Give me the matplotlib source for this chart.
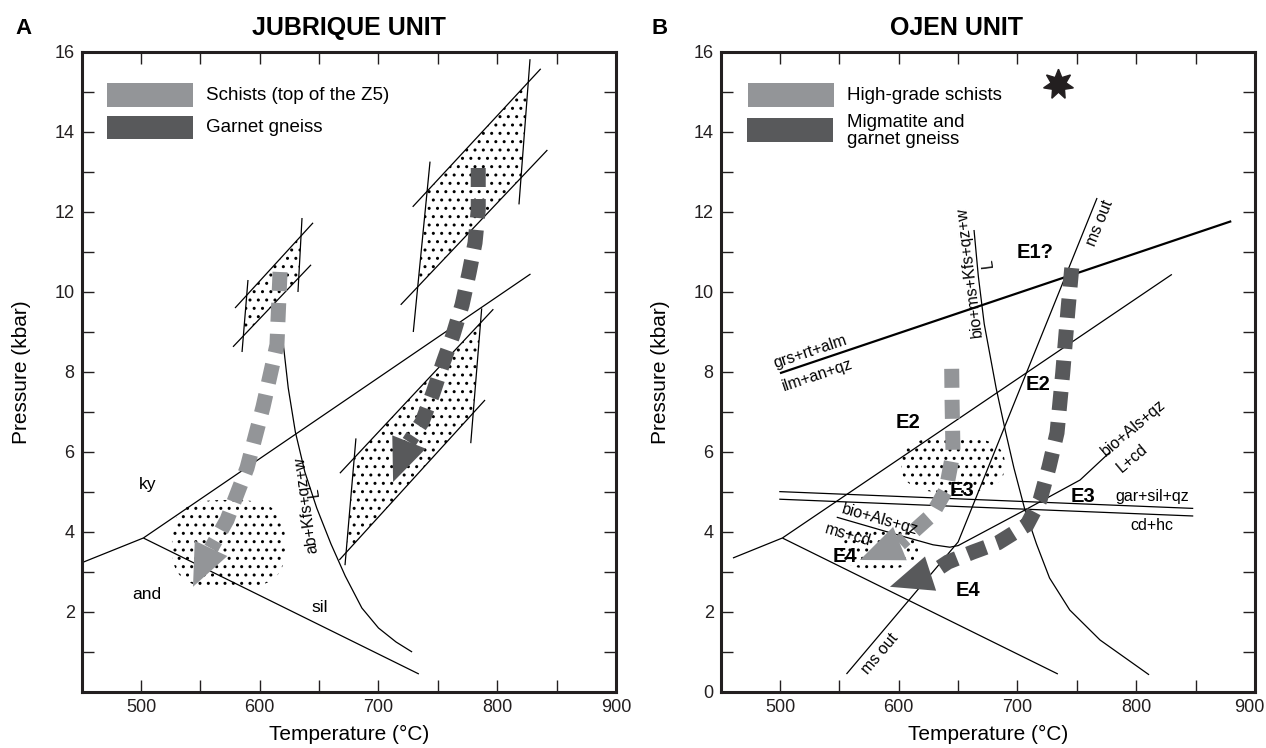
import numpy as np
import matplotlib
matplotlib.use("Agg")
import matplotlib.pyplot as plt
import matplotlib.transforms as mtransforms
from matplotlib.patches import Polygon, Rectangle

plt.rcParams['font.family'] = ['Liberation Sans', 'DejaVu Sans']
plt.rcParams['hatch.linewidth'] = 1.0

LIGHT = '#939598'
DARK = '#58595b'

# ---------------- axes ----------------
x_ticks = [500, 600, 700, 800, 900]
x_minor = [550, 650, 750, 850]
y_ticks_A = [2, 4, 6, 8, 10, 12, 14, 16]
y_ticks_B = [0, 2, 4, 6, 8, 10, 12, 14, 16]
y_minor = [1, 3, 5, 7, 9, 11, 13, 15]

# ---------------- panel A : Jubrique unit ----------------
ky_and_A_T = [450, 502]
ky_and_A_P = [3.23, 3.85]
ky_sil_A_T = [502, 828]
ky_sil_A_P = [3.85, 10.45]
and_sil_T = [502, 734]
and_sil_P = [3.85, 0.45]
solidus_A_T = [619.9, 624, 630, 638, 648, 660, 672, 686, 700, 714.8, 728.3]
solidus_A_P = [8.68, 7.6, 6.5, 5.5, 4.6, 3.7, 2.9, 2.1, 1.6, 1.25, 1.0]

# P-T boxes: lines (upper, lower, left, right) as [T1, T2] / [P1, P2]
box1_T = [[579.2, 644.9], [577.5, 643.2], [590.1, 585.1], [635.6, 632.2]]
box1_P = [[9.60, 11.73], [8.63, 10.68], [10.30, 8.50], [11.85, 10.00]]
box2_T = [[728.8, 836.6], [718.7, 842.2], [743.4, 729.3], [827.6, 818.3]]
box2_P = [[12.13, 15.58], [9.68, 13.55], [13.26, 9.00], [15.82, 12.19]]
box3_T = [[667.5, 796.7], [667.0, 789.7], [681.0, 671.8], [786.9, 777.7]]
box3_P = [[5.47, 9.57], [3.30, 7.30], [6.34, 3.17], [9.59, 6.22]]

# dotted field (centre T, centre P, half-width T, half-height P)
blob_A = [573.7, 3.7, 47.6, 1.1]

# P-T paths (last point = arrow tip)
schist_A_T = [617.1, 614.5, 602.8, 589.3, 572.4, 559.0, 543.8]
schist_A_P = [10.5, 8.68, 7.13, 5.60, 4.30, 3.59, 2.63]
gneiss_A_T = [784.0, 784.0, 781.3, 776.3, 770.4, 762.8, 754.4, 746.0, 736.7, 725.7, 712.3]
gneiss_A_P = [13.1, 12.05, 11.23, 10.48, 9.68, 8.93, 8.23, 7.48, 6.75, 6.25, 5.25]

# ---------------- panel B : Ojen unit ----------------
ky_and_B_T = [460.4, 502]
ky_and_B_P = [3.35, 3.85]
ky_sil_B_T = [502, 830]
ky_sil_B_P = [3.85, 10.44]
msout_T = [556, 650, 767]
msout_P = [0.45, 3.75, 12.35]
solidus_B_T = [663.4, 667, 672, 682, 690, 697, 706.3, 716, 727, 744, 769.5, 810.8]
solidus_B_P = [11.55, 10.4, 9.2, 7.6, 6.5, 5.6, 4.55, 3.7, 2.85, 2.05, 1.3, 0.43]
bio_als_T = [547.8, 600, 628.9, 643, 650, 706.3, 752.7, 778]
bio_als_P = [4.37, 3.92, 3.68, 3.62, 3.66, 4.55, 5.3, 6.0]
gar_sil_1_T = [499.4, 848]
gar_sil_1_P = [5.01, 4.59]
gar_sil_2_T = [499.4, 848]
gar_sil_2_P = [4.82, 4.40]
grs_T = [500, 880]
grs_P = [7.97, 11.77]

blob_B1 = [645.7, 5.68, 43.6, 0.70]
blob_B2 = [583.3, 3.60, 33.0, 0.53]
star_TP = [734, 15.2]

hgs_B_T = [644.6, 644.9, 645.7, 639.8, 628.0, 601.0, 567.3]
hgs_B_P = [8.08, 7.30, 5.98, 5.05, 4.43, 3.71, 3.30]
mig_B_T = [745.7, 742.5, 738.1, 733.3, 726.6, 719.0, 708.0, 683.6, 662.5, 641.5, 626.8, 592.6]
mig_B_P = [10.6, 9.55, 7.98, 6.48, 5.63, 4.80, 4.18, 3.73, 3.50, 3.25, 2.96, 2.63]


# ---------------- helpers ----------------
def line(ax, T, P, lw=0.9):
    ax.plot(T, P, color='black', lw=lw, solid_capstyle='butt', zorder=2)


def intersect(a, b):
    (x1, y1), (x2, y2) = a
    (x3, y3), (x4, y4) = b
    d = (x1 - x2) * (y3 - y4) - (y1 - y2) * (x3 - x4)
    px = ((x1 * y2 - y1 * x2) * (x3 - x4) - (x1 - x2) * (x3 * y4 - y3 * x4)) / d
    py = ((x1 * y2 - y1 * x2) * (y3 - y4) - (y1 - y2) * (x3 * y4 - y3 * x4)) / d
    return px, py


def dotted(ax, verts):
    ax.add_patch(Polygon(verts, closed=True, facecolor='none', edgecolor='black',
                         hatch='..', lw=0, zorder=1))


def box(ax, Ts, Ps):
    segs = [list(zip(t, p)) for t, p in zip(Ts, Ps)]
    for t, p in zip(Ts, Ps):
        line(ax, t, p)
    up, lo, le, ri = segs
    verts = [intersect(up, le), intersect(up, ri), intersect(lo, ri), intersect(lo, le)]
    dotted(ax, verts)


def blob(ax, b, n=3.0):
    cT, cP, aT, aP = b
    t = np.linspace(0, 2 * np.pi, 200)
    c, s = np.cos(t), np.sin(t)
    T = cT + aT * np.sign(c) * np.abs(c) ** (2 / n)
    P = cP + aP * np.sign(s) * np.abs(s) ** (2 / n)
    dotted(ax, np.column_stack([T, P]))


def dashed_arrow(ax, T, P, color, lw_px=15, on_px=19, off_px=12, head_w=36):
    pts = ax.transData.transform(np.column_stack([T, P]))
    tip, base = pts[-1], pts[-2]
    d = tip - base
    d = d / np.hypot(*d)
    nrm = np.array([-d[1], d[0]])
    inv = ax.transData.inverted()
    body = inv.transform(pts[:-1])
    lw = lw_px * 0.72
    ax.plot(body[:, 0], body[:, 1], color=color, lw=lw,
            linestyle=(0, (on_px / lw_px, off_px / lw_px)),
            dash_capstyle='butt', dash_joinstyle='miter', zorder=3)
    head = np.array([base + nrm * head_w / 2, tip, base - nrm * head_w / 2])
    ax.add_patch(Polygon(inv.transform(head), closed=True, facecolor=color,
                         edgecolor='none', zorder=3))


def style(ax, yticks):
    ax.set_xlim(450, 900)
    ax.set_ylim(0, 16)
    ax.set_xticks(x_ticks)
    ax.set_xticks(x_minor, minor=True)
    ax.set_yticks(yticks)
    ax.set_yticks(y_minor, minor=True)
    ax.tick_params(which='both', direction='in', length=8.6, width=1.0,
                   top=True, right=True, labelsize=13, pad=5, colors='#231f20')
    for sp in ax.spines.values():
        sp.set_linewidth(2.2)
        sp.set_color('#231f20')
    ax.set_xlabel('Temperature (\u00b0C)', fontsize=15)
    ax.set_ylabel('Pressure (kbar)', fontsize=15)
    ax.xaxis.set_label_coords(0.5, -0.052)
    ax.yaxis.set_label_coords(-0.095, 0.5)


fig = plt.figure(figsize=(12.66, 7.48), dpi=100)
axA = fig.add_axes([81.6 / 1266, 56 / 748, 534.4 / 1266, 640 / 748])
axB = fig.add_axes([720.6 / 1266, 56 / 748, 534.4 / 1266, 640 / 748])
style(axA, y_ticks_A)
style(axB, y_ticks_B)

# keep the last x label of panel B inside the figure
fig.canvas.draw()
lab900 = axB.get_xticklabels()[-1]
lab900.set_transform(lab900.get_transform() +
                     mtransforms.ScaledTranslation(-6 / 100, 0, fig.dpi_scale_trans))

# ---------------- panel A drawing ----------------
line(axA, ky_and_A_T, ky_and_A_P)
line(axA, ky_sil_A_T, ky_sil_A_P)
line(axA, and_sil_T, and_sil_P)
line(axA, solidus_A_T, solidus_A_P)
box(axA, box1_T, box1_P)
box(axA, box2_T, box2_P)
box(axA, box3_T, box3_P)
blob(axA, blob_A, n=3.0)
dashed_arrow(axA, schist_A_T, schist_A_P, LIGHT)
dashed_arrow(axA, gneiss_A_T, gneiss_A_P, DARK)

axA.text(505.9, 5.18, 'ky', fontsize=12.5, ha='center', va='center')
axA.text(505.0, 2.43, 'and', fontsize=12.5, ha='center', va='center')
axA.text(650.7, 2.10, 'sil', fontsize=12.5, ha='center', va='center')
axA.text(639.0, 4.68, 'ab+Kfs+qz+w', fontsize=11.5, ha='center', va='center', rotation=98)
axA.text(645.5, 5.0, 'L', fontsize=11.5, ha='center', va='center', rotation=98)

axA.add_patch(Rectangle((471.5, 14.62), 72.5, 0.6, facecolor=LIGHT, edgecolor='none'))
axA.add_patch(Rectangle((471.0, 13.82), 73.0, 0.58, facecolor=DARK, edgecolor='none'))
axA.text(554.8, 14.92, 'Schists (top of the Z5)', fontsize=13.5, ha='left', va='center')
axA.text(554.8, 14.10, 'Garnet gneiss', fontsize=13.5, ha='left', va='center')

# ---------------- panel B drawing ----------------
line(axB, ky_and_B_T, ky_and_B_P)
line(axB, ky_sil_B_T, ky_sil_B_P)
line(axB, and_sil_T, and_sil_P)
line(axB, msout_T, msout_P)
line(axB, solidus_B_T, solidus_B_P)
line(axB, bio_als_T, bio_als_P)
line(axB, gar_sil_1_T, gar_sil_1_P)
line(axB, gar_sil_2_T, gar_sil_2_P)
line(axB, grs_T, grs_P, lw=1.6)
blob(axB, blob_B1, n=2.6)
blob(axB, blob_B2, n=2.6)
dashed_arrow(axB, hgs_B_T, hgs_B_P, LIGHT)
dashed_arrow(axB, mig_B_T, mig_B_P, DARK)
axB.plot([star_TP[0]], [star_TP[1]], marker=(7, 1, 0), ms=22, color='#231f20', zorder=4)

bold = dict(fontsize=14.5, fontweight='bold', ha='center', va='center', zorder=5)
axB.text(714.8, 10.98, 'E1?', **bold)
axB.text(717.2, 7.68, 'E2', **bold)
axB.text(607.8, 6.75, 'E2', **bold)
axB.text(653.3, 5.05, 'E3', **bold)
axB.text(755.2, 4.88, 'E3', **bold)
axB.text(554.8, 3.40, 'E4', **bold)
axB.text(658.3, 2.55, 'E4', **bold)

small = dict(fontsize=11.5, ha='center', va='center')
axB.text(525.3, 8.50, 'grs+rt+alm', rotation=18.5, **small)
axB.text(531.2, 7.93, 'ilm+an+qz', rotation=18.5, **small)
axB.text(584.2, 4.30, 'bio+Als+qz', rotation=-16, **small)
axB.text(557.2, 3.93, 'ms+cd', rotation=-16, **small)
axB.text(797.3, 6.60, 'bio+Als+qz', rotation=40, **small)
axB.text(796.5, 5.85, 'L+cd', rotation=40, **small)
axB.text(813.3, 4.88, 'gar+sil+qz', **small)
axB.text(813.3, 4.15, 'cd+hc', **small)
axB.text(769.5, 11.73, 'ms out', rotation=68, **small)
axB.text(584.0, 0.95, 'ms out', rotation=50, **small)
axB.text(659.2, 10.50, 'bio+ms+Kfs+qz+w', rotation=97, **small)
axB.text(675.2, 10.72, 'L', rotation=97, **small)

axB.add_patch(Rectangle((473.0, 14.62), 72.5, 0.6, facecolor=LIGHT, edgecolor='none'))
axB.add_patch(Rectangle((472.0, 13.75), 73.0, 0.6, facecolor=DARK, edgecolor='none'))
axB.text(556.3, 14.92, 'High-grade schists', fontsize=13.5, ha='left', va='center')
axB.text(556.3, 14.02, 'Migmatite and\ngarnet gneiss', fontsize=13.5, ha='left', va='center',
         linespacing=1.0)

# ---------------- titles ----------------
fig.text(23 / 1266, 1 - 28 / 748, 'A', fontsize=16, fontweight='bold', ha='center', va='center')
fig.text(348.5 / 1266, 1 - 28 / 748, 'JUBRIQUE UNIT', fontsize=18, fontweight='bold',
         ha='center', va='center')
fig.text(660 / 1266, 1 - 28 / 748, 'B', fontsize=16, fontweight='bold', ha='center', va='center')
fig.text(957 / 1266, 1 - 28 / 748, 'OJEN UNIT', fontsize=18, fontweight='bold',
         ha='center', va='center')

fig.savefig('out.png', dpi=100)
